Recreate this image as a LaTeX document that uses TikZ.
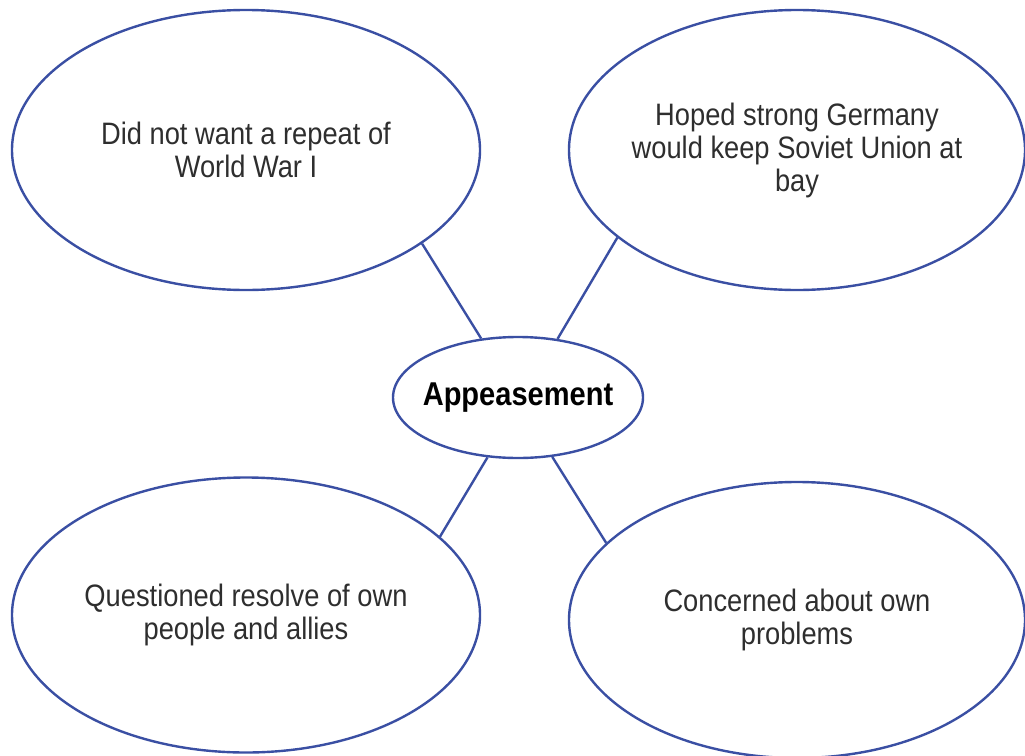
\documentclass[tikz,border=0pt]{standalone}
\usepackage{fontspec}
\setmainfont{Liberation Sans}[FakeStretch=0.88]
\usetikzlibrary{shapes.geometric}
\definecolor{edgeblue}{HTML}{3A4FA3}
\definecolor{txt}{HTML}{2E2E2E}
\begin{document}
\begin{tikzpicture}[x=1pt,y=-1pt,
  bubble/.style={ellipse,draw=edgeblue,line width=2.4pt,inner sep=-80pt,
    text=txt,align=center,font=\fontsize{31}{33}\selectfont},
  link/.style={draw=edgeblue,line width=2.4pt}]
\useasboundingbox (0,0) rectangle (1025,755);
\node[bubble,minimum width=468pt,minimum height=280pt] (tl) at (246,150) {Did not want a repeat of\\World War I};
\node[bubble,minimum width=456pt,minimum height=280pt] (tr) at (797,150) {Hoped strong Germany\\would keep Soviet Union at\\bay};
\node[bubble,minimum width=250pt,minimum height=121pt,text=black,font=\bfseries\fontsize{33}{33}\selectfont] (c) at (518,397.5) {Appeasement};
\node[bubble,minimum width=468pt,minimum height=275pt] (bl) at (246,615) {Questioned resolve of own\\people and allies};
\node[bubble,minimum width=456pt,minimum height=276pt] (br) at (797,620) {Concerned about own\\problems};
\draw[link] (c.122.6) -- (tl.-28);
\draw[link] (c.56.8) -- (tr.206);
\draw[link] (c.-117) -- (bl.22);
\draw[link] (c.-60) -- (br.158.6);
\end{tikzpicture}
\end{document}
